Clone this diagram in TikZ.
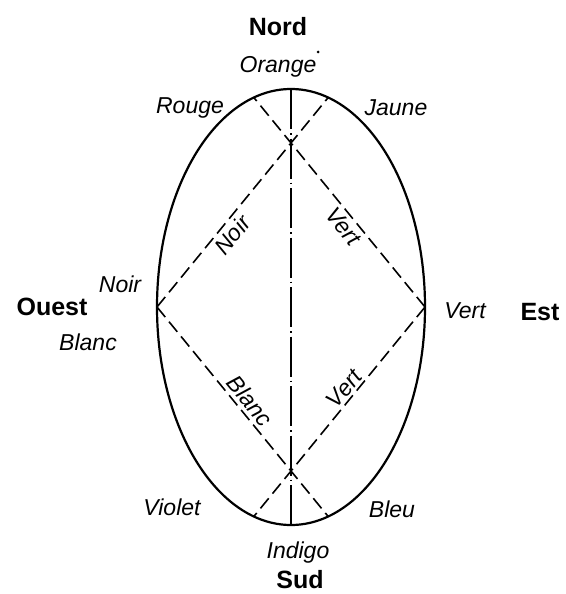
\documentclass[tikz,border=0pt]{standalone}
\usepackage{fontspec}
\setmainfont{Liberation Sans}
\usetikzlibrary{calc}

\begin{document}
\begin{tikzpicture}[x=1pt, y=-1pt,
        rim/.style={font=\fontsize{23}{23}\selectfont\itshape, inner sep=1pt},
        cardinal/.style={font=\fontsize{25}{25}\selectfont\bfseries, inner sep=1pt},
        diag/.style={line width=1.6pt, dash pattern=on 13pt off 6pt},
        axe/.style={line width=1.2pt, dash pattern=on 40pt off 4pt on 1.5pt off 4pt}]
            \useasboundingbox (0,0) rectangle (565,594);
            \coordinate (O) at (291,307);
            \coordinate (W) at (157,307);
            \coordinate (E) at (425,307);
            \coordinate (N) at (291,89);
            \coordinate (S) at (291,525);
            \coordinate (A) at (291,143);
            \coordinate (B) at (291,471);
            % ends of the diagonals on the oval
            \coordinate (WA) at ($(W)!1.277!(A)$);
            \coordinate (EA) at ($(E)!1.277!(A)$);
            \coordinate (WB) at ($(W)!1.277!(B)$);
            \coordinate (EB) at ($(E)!1.277!(B)$);
            \draw[line width=2.2pt] (O) ellipse [x radius=134, y radius=218];
            \draw[axe] (N) -- (S);
            \draw[diag] (W) -- (WA);
            \draw[diag] (E) -- (EA);
            \draw[diag] (W) -- (WB);
            \draw[diag] (E) -- (EB);
            % labels along the diagonals
            \node[rim, inner sep=4pt, rotate=50.7, anchor=north] (noirdiag) at ($(W)!0.49!(A)$) {Noir};
            \node[rim, inner sep=4pt, rotate=-50.7, anchor=north] (vertdiag) at ($(A)!0.46!(E)$) {Vert};
            \node[rim, inner sep=4pt, rotate=-50.7, anchor=south] (blancdiag) at ($(W)!0.62!(B)$) {Blanc};
            \node[rim, inner sep=3pt, rotate=50.7, anchor=south] (vertbas) at ($(B)!0.46!(E)$) {Vert};
            % labels round the oval
            \foreach \name/\x/\y/\txt in {orange/278/72/Orange, rouge/190/113/Rouge,
                    jaune/396/115/Jaune, noir/120/292/Noir, blanc/88/350/Blanc,
                    vert/465/318/Vert, violet/172/515/Violet, bleu/392/517/Bleu,
                    indigo/298/558/Indigo} {
                \node[rim, anchor=base] (\name) at (\x,\y) {\txt};
            }
            \foreach \name/\x/\y/\txt in {nord/278/36/Nord, ouest/52/315/Ouest,
                    est/540/320/Est, sud/300/588/Sud} {
                \node[cardinal, anchor=base] (\name) at (\x,\y) {\txt};
            }
            \fill (318,52) circle (1.5);
        \end{tikzpicture}
\end{document}
